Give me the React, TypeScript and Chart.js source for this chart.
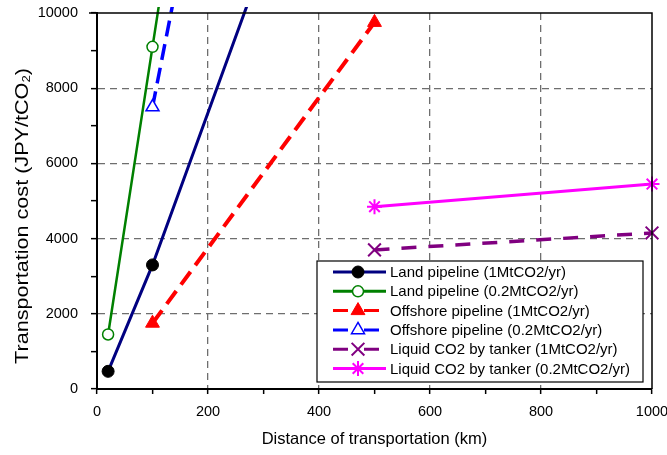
import React, { useEffect, useRef } from "react";
import { Chart, registerables } from "chart.js";

Chart.register(...registerables);

// ---- data (distance km -> cost JPY/tCO2) ----
const landDistance = [20, 100, 500];
const landCost1Mt = [470, 3300, 19500];
const landCost02Mt = [1450, 9100, 47300];
const offshoreDistance = [100, 500];
const offshoreCost1Mt = [1750, 9750];
const offshoreCost02Mt = [7500, 37500];
const tankerDistance = [500, 1000];
const tankerCost1Mt = [3700, 4150];
const tankerCost02Mt = [4850, 5450];

const seriesNames = [
  "Land pipeline (1MtCO2/yr)",
  "Land pipeline (0.2MtCO2/yr)",
  "Offshore pipeline (1MtCO2/yr)",
  "Offshore pipeline (0.2MtCO2/yr)",
  "Liquid CO2 by tanker (1MtCO2/yr)",
  "Liquid CO2 by tanker (0.2MtCO2/yr)",
];

const xTickStep = 100;
const xLabelStep = 200;
const yTickStep = 1000;
const yLabelStep = 2000;
const xMax = 1000;
const yMax = 10000;

const FONT = '"Liberation Sans", Arial, sans-serif';

const toPoints = (xs: number[], ys: number[]) => xs.map((x, i) => ({ x, y: ys[i] }));

type Style = {
  color: string;
  width: number;
  dash: number[];
  legendDash: number[];
  point: string;
  radius: number;
  fill: string;
  pointBorder: number;
};

const styles: Style[] = [
  { color: "#000080", width: 3, dash: [], legendDash: [], point: "circle", radius: 6, fill: "#000000", pointBorder: 1 },
  { color: "#008000", width: 2.5, dash: [], legendDash: [], point: "circle", radius: 5.5, fill: "#ffffff", pointBorder: 1.5 },
  { color: "#ff0000", width: 4, dash: [16, 8], legendDash: [15, 16], point: "triangle", radius: 8, fill: "#ff0000", pointBorder: 1 },
  { color: "#0000ff", width: 3.5, dash: [16, 8], legendDash: [15, 16], point: "triangle", radius: 7.5, fill: "#ffffff", pointBorder: 1.5 },
  { color: "#800080", width: 3.5, dash: [15, 12], legendDash: [15, 16], point: "crossRot", radius: 9, fill: "#800080", pointBorder: 2 },
  { color: "#ff00ff", width: 3, dash: [], legendDash: [], point: "star", radius: 7.5, fill: "#ff00ff", pointBorder: 2 },
];

function drawMarker(ctx: CanvasRenderingContext2D, s: Style, x: number, y: number, markerColor: string) {
  const r = s.radius;
  ctx.save();
  ctx.setLineDash([]);
  ctx.lineWidth = s.pointBorder;
  ctx.strokeStyle = markerColor;
  ctx.fillStyle = s.fill;
  ctx.beginPath();
  if (s.point === "circle") {
    ctx.arc(x, y, r, 0, Math.PI * 2);
    ctx.fill();
    ctx.stroke();
  } else if (s.point === "triangle") {
    for (let k = 0; k < 3; k++) {
      const a = (k * 2 * Math.PI) / 3;
      const px = x + Math.sin(a) * r;
      const py = y - Math.cos(a) * r;
      if (k === 0) ctx.moveTo(px, py);
      else ctx.lineTo(px, py);
    }
    ctx.closePath();
    ctx.fill();
    ctx.stroke();
  } else if (s.point === "crossRot" || s.point === "star") {
    const d = r * Math.SQRT1_2;
    ctx.moveTo(x - d, y - d);
    ctx.lineTo(x + d, y + d);
    ctx.moveTo(x - d, y + d);
    ctx.lineTo(x + d, y - d);
    if (s.point === "star") {
      ctx.moveTo(x, y - r);
      ctx.lineTo(x, y + r);
      ctx.moveTo(x - r, y);
      ctx.lineTo(x + r, y);
    }
    ctx.stroke();
  }
  ctx.restore();
}

const decorPlugin = {
  id: "decor",
  afterDraw(chart: any) {
    const ctx: CanvasRenderingContext2D = chart.ctx;
    const area = chart.chartArea;
    // top & right frame
    ctx.save();
    ctx.strokeStyle = "#000000";
    ctx.lineWidth = 1.5;
    ctx.beginPath();
    ctx.moveTo(area.left - 8, area.top);
    ctx.lineTo(area.right, area.top);
    ctx.lineTo(area.right, area.bottom);
    ctx.stroke();
    ctx.restore();

    // y axis title (with subscript)
    ctx.save();
    ctx.translate(23, 216);
    ctx.rotate(-Math.PI / 2);
    ctx.scale(1.2, 1);
    ctx.fillStyle = "#000000";
    ctx.textBaseline = "middle";
    const main = "Transportation cost (JPY/tCO";
    const sub = "2";
    const close = ")";
    ctx.font = `18px ${FONT}`;
    const w1 = ctx.measureText(main).width;
    const w3 = ctx.measureText(close).width;
    ctx.font = `11px ${FONT}`;
    const w2 = ctx.measureText(sub).width;
    let tx = -(w1 + w2 + w3) / 2;
    ctx.font = `18px ${FONT}`;
    ctx.fillText(main, tx, 0);
    tx += w1;
    ctx.font = `11px ${FONT}`;
    ctx.fillText(sub, tx, 4);
    tx += w2;
    ctx.font = `18px ${FONT}`;
    ctx.fillText(close, tx, 0);
    ctx.restore();

    // legend box
    const bx = 317, by = 261, bw = 326, bh = 121;
    ctx.save();
    ctx.fillStyle = "#ffffff";
    ctx.fillRect(bx, by, bw, bh);
    ctx.strokeStyle = "#000000";
    ctx.lineWidth = 1.2;
    ctx.strokeRect(bx, by, bw, bh);
    ctx.font = `15px ${FONT}`;
    ctx.textBaseline = "middle";
    ctx.fillStyle = "#000000";
    const rowH = 19.3;
    const y0 = 272;
    seriesNames.forEach((name, i) => {
      const s = styles[i];
      const ry = y0 + i * rowH;
      ctx.save();
      ctx.strokeStyle = s.color;
      ctx.lineWidth = 3;
      ctx.setLineDash(s.legendDash);
      ctx.beginPath();
      ctx.moveTo(333, ry);
      ctx.lineTo(386, ry);
      ctx.stroke();
      ctx.restore();
      drawMarker(ctx, s, 358, ry, i === 0 ? "#000000" : s.color);
      ctx.fillStyle = "#000000";
      ctx.fillText(name, 390, ry + 1);
    });
    ctx.restore();
  },
};

export default function App() {
  const ref = useRef<HTMLCanvasElement | null>(null);

  useEffect(() => {
    if (!ref.current) return;
    const series = [
      toPoints(landDistance, landCost1Mt),
      toPoints(landDistance, landCost02Mt),
      toPoints(offshoreDistance, offshoreCost1Mt),
      toPoints(offshoreDistance, offshoreCost02Mt),
      toPoints(tankerDistance, tankerCost1Mt),
      toPoints(tankerDistance, tankerCost02Mt),
    ];
    const datasets = series.map((data, i) => {
      const s = styles[i];
      const markerColor = i === 0 ? "#000000" : s.color;
      return {
        label: seriesNames[i],
        data,
        showLine: true,
        borderColor: s.color,
        borderWidth: s.width,
        borderDash: s.dash,
        borderCapStyle: "butt",
        pointStyle: s.point,
        pointRadius: (c: any) => (c.raw && c.raw.y > yMax ? 0 : s.radius),
        pointHoverRadius: 0,
        pointBackgroundColor: s.fill,
        pointBorderColor: markerColor,
        pointBorderWidth: s.pointBorder,
        clip: { left: 12, top: 6, right: 12, bottom: 12 },
      };
    });

    const gridColor = (max: number, step: number) => (c: any) => {
      const v = c.tick ? c.tick.value : 0;
      if (v <= 0 || v >= max) return "rgba(0,0,0,0)";
      return v % step === 0 ? "#6e6e6e" : "rgba(0,0,0,0)";
    };

    const chart = new Chart(ref.current, {
      type: "scatter",
      data: { datasets: datasets as any },
      plugins: [decorPlugin],
      options: {
        responsive: false,
        animation: false,
        events: [],
        layout: { padding: { top: 13, right: 15, left: 0, bottom: 0 } },
        plugins: { legend: { display: false }, tooltip: { enabled: false } },
        scales: {
          x: {
            type: "linear",
            min: 0,
            max: xMax,
            afterFit: (sc: any) => {
              sc.height = 66;
              sc.paddingLeft = 0;
              sc.paddingRight = 0;
            },
            ticks: {
              stepSize: xTickStep,
              autoSkip: false,
              maxRotation: 0,
              padding: 9,
              color: "#000000",
              font: { family: FONT, size: 14.5 },
              callback: (v: any) => (Number(v) % xLabelStep === 0 ? String(v) : ""),
            },
            grid: {
              color: gridColor(xMax, xLabelStep),
              lineWidth: 1.3,
              tickLength: 5,
              tickColor: "#000000",
              tickWidth: 1.5,
            },
            border: { display: true, color: "#000000", width: 2, dash: [7, 5] },
            title: {
              display: true,
              text: "Distance of transportation (km)",
              color: "#000000",
              font: { family: FONT, size: 16.5 },
              padding: { top: 6, bottom: 6 },
            },
          },
          y: {
            type: "linear",
            min: 0,
            max: yMax,
            afterFit: (sc: any) => {
              sc.width = 97;
              sc.paddingTop = 0;
              sc.paddingBottom = 0;
            },
            ticks: {
              stepSize: yTickStep,
              autoSkip: false,
              padding: 13,
              color: "#000000",
              font: { family: FONT, size: 14.5 },
              callback: (v: any) => (Number(v) % yLabelStep === 0 ? String(v) : ""),
            },
            grid: {
              color: gridColor(yMax, yLabelStep),
              lineWidth: 1.3,
              tickLength: 6,
              tickColor: "#000000",
              tickWidth: 1.5,
            },
            border: { display: true, color: "#000000", width: 2, dash: [7, 5] },
          },
        },
      } as any,
    });
    return () => chart.destroy();
  }, []);

  return (
    <div style={{ position: "absolute", left: 0, top: 0, width: 667, height: 455, background: "#ffffff" }}>
      <canvas ref={ref} width={667} height={455} style={{ display: "block" }} />
    </div>
  );
}
